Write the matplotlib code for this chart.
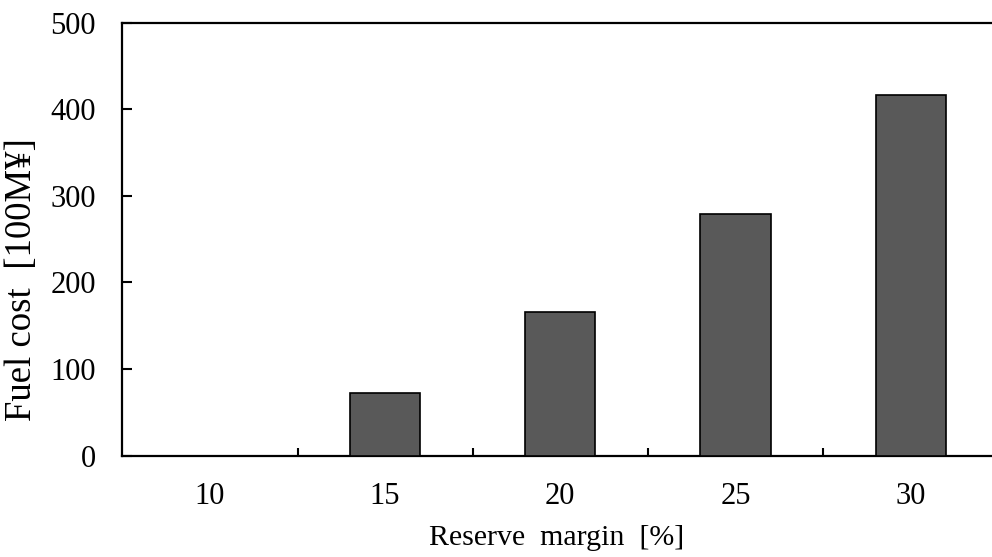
import matplotlib
matplotlib.use("Agg")
import matplotlib.pyplot as plt
from matplotlib.ticker import FixedLocator, NullFormatter

# Fuel cost by reserve margin
margins = ["10", "15", "20", "25", "30"]
fuel_cost = [0, 72, 166, 279, 417]
y_ticks = [0, 100, 200, 300, 400, 500]

plt.rcParams["font.family"] = ["Liberation Serif", "Noto Sans CJK JP", "DejaVu Serif"]

fig = plt.figure(figsize=(9.92, 5.57), dpi=100)
ax = fig.add_axes([0.1233, 0.1819, 0.883, 0.7773])

x = list(range(len(margins)))
ax.bar(x, fuel_cost, width=0.4, color="#595959", edgecolor="black",
       linewidth=1.2, zorder=3)

ax.set_xlim(-0.5, len(margins) - 0.5)
ax.set_ylim(0, 500)
ax.set_yticks(y_ticks)

# Category labels on the major ticks, boundary marks on the minor ticks
ax.set_xticks(x)
ax.set_xticklabels(margins)
ax.xaxis.set_minor_locator(FixedLocator([i + 0.5 for i in x[:-1]]))
ax.xaxis.set_minor_formatter(NullFormatter())
ax.tick_params(axis="x", which="major", length=0, pad=19, labelsize=22)
ax.tick_params(axis="x", which="minor", direction="in", length=6, width=1.5)
ax.tick_params(axis="y", direction="in", length=7, width=1.5, pad=19,
               labelsize=22)

for side in ("left", "bottom", "top"):
    ax.spines[side].set_linewidth(1.6)
ax.spines["right"].set_visible(False)

ax.set_xlabel("Reserve  margin  [%]", fontsize=21.5)
ax.xaxis.set_label_coords((557 - 122.3) / 876, -(525 - 455.7) / 433)
ax.set_ylabel("Fuel cost  [100M¥]", fontsize=26.5)
ax.yaxis.set_label_coords(-(122.3 - 39) / 876, (455.7 - 280) / 433)

fig.savefig("out.png", dpi=100)
